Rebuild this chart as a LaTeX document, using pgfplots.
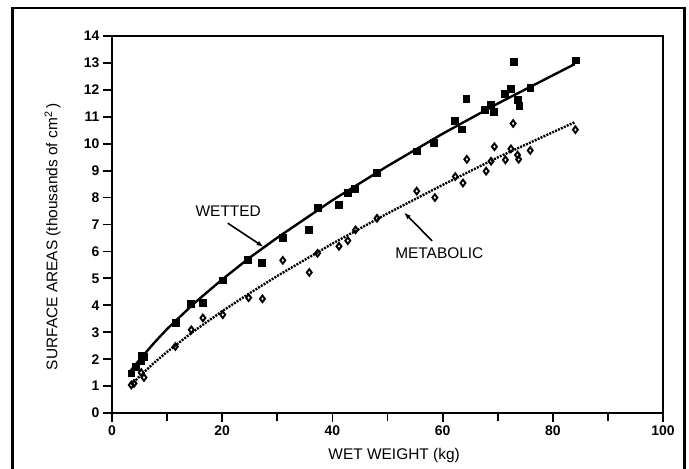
\documentclass[border=0pt]{standalone}
\usepackage{fontspec}
\setmainfont{Liberation Sans}
\usepackage{pgfplots}
\pgfplotsset{compat=1.18}
\usetikzlibrary{arrows.meta}
\begin{document}
\begin{tikzpicture}
\useasboundingbox (0,0) rectangle (689bp,469bp);
\fill[white] (0,0) rectangle (689bp,469bp);
\draw[line width=2.2bp] (12.5bp,-2bp) -- (12.5bp,461bp) -- (684.5bp,461bp) -- (684.5bp,-2bp);
\begin{axis}[
 at={(112bp,56bp)}, anchor=south west,
 scale only axis, width=551bp, height=377bp,
 xmin=0,xmax=100,ymin=0,ymax=14,
 xtick={0,20,...,100}, minor xtick={10,30,...,90},
 ytick={0,1,...,14},
 tick pos=left, tick align=outside,
 major tick length=9bp, minor tick length=8bp,
 major tick style={line width=1.8bp,black},
 minor tick style={line width=1.8bp,black},
 axis line style={line width=1.3bp},
 tick label style={font=\fontsize{14}{16}\selectfont\bfseries},
 /pgf/number format/assume math mode=true,
 clip=false,
]
% thick left and bottom axis lines
\draw[line width=2.8bp] (axis cs:0,14) -- (axis cs:0,0) -- (axis cs:100,0);

% fitted lines
\addplot[black, line width=2.4bp, no marks] coordinates {
(3.3,1.55) (5,1.98) (7.5,2.57) (10,3.12) (15,4.09) (20,4.96) (25,5.77)
(30,6.51) (40,7.90) (50,9.17) (60,10.37) (70,11.49) (84,12.96)};
\addplot[black, line width=2.4bp, dash pattern=on 2bp off 1.2bp, no marks] coordinates {
(3.5,1.05) (5,1.36) (7.5,1.84) (10,2.27) (15,3.06) (20,3.78) (25,4.45)
(30,5.09) (40,6.29) (50,7.41) (60,8.47) (70,9.49) (84,10.80)};

% wetted (filled squares)
\addplot[only marks, mark=square*, mark size=3.4bp, black] coordinates {
(3.5,1.48) (4.3,1.72) (5.3,1.93) (5.7,2.09) (5.3,2.12) (11.5,3.36) (14.3,4.07)
(16.5,4.11) (20.1,4.93) (24.6,5.68) (27.2,5.58) (31.0,6.50) (35.7,6.82)
(37.3,7.62) (41.2,7.73) (42.8,8.17) (44.1,8.32) (48.0,8.93) (55.3,9.72)
(58.4,10.04) (62.2,10.86) (63.5,10.54) (64.3,11.66) (67.7,11.27) (68.7,11.45)
(69.3,11.20) (71.2,11.85) (72.3,12.03) (72.9,13.04) (73.6,11.64) (73.9,11.42)
(75.9,12.09) (84.1,13.10)};

% metabolic (open diamonds)
\addplot[only marks, mark=diamond, mark size=3.3bp, black, line width=1.9bp] coordinates {
(3.5,1.04) (4.0,1.10) (5.3,1.50) (5.8,1.32) (11.5,2.47) (14.4,3.09) (16.5,3.53)
(20.1,3.65) (24.8,4.28) (27.3,4.24) (31.0,5.67) (35.8,5.22) (37.3,5.93)
(41.2,6.19) (42.8,6.40) (44.2,6.80) (48.1,7.23) (55.3,8.24) (58.6,8.00)
(62.3,8.78) (63.7,8.54) (64.4,9.42) (67.9,8.98) (68.8,9.35) (69.4,9.89)
(71.4,9.40) (72.4,9.81) (72.8,10.75) (73.6,9.58) (73.8,9.42) (75.9,9.75)
(84.1,10.52)};

% annotations
\node[font=\fontsize{15.5}{18}\selectfont] at (axis cs:21.1,7.50) {WETTED};
\draw[line width=1.6bp,-{Latex[length=7bp,width=5bp]}] (axis cs:21.0,7.05) -- (axis cs:27.5,6.17);
\node[font=\fontsize{15.5}{18}\selectfont] at (axis cs:59.4,5.92) {METABOLIC};
\draw[line width=1.6bp,-{Latex[length=7bp,width=5bp]}] (axis cs:58.1,6.39) -- (axis cs:53.0,7.45);

% axis titles
\node[font=\fontsize{15.5}{18}\selectfont, anchor=base] at (axis cs:51.2,-1.71) {WET WEIGHT (kg)};
\node[font=\fontsize{15.5}{18}\selectfont, anchor=base, rotate=90] at (axis cs:-9.9,6.54)
  {SURFACE AREAS (thousands of cm\textsuperscript{2}\,)};
\end{axis}
\end{tikzpicture}
\end{document}
